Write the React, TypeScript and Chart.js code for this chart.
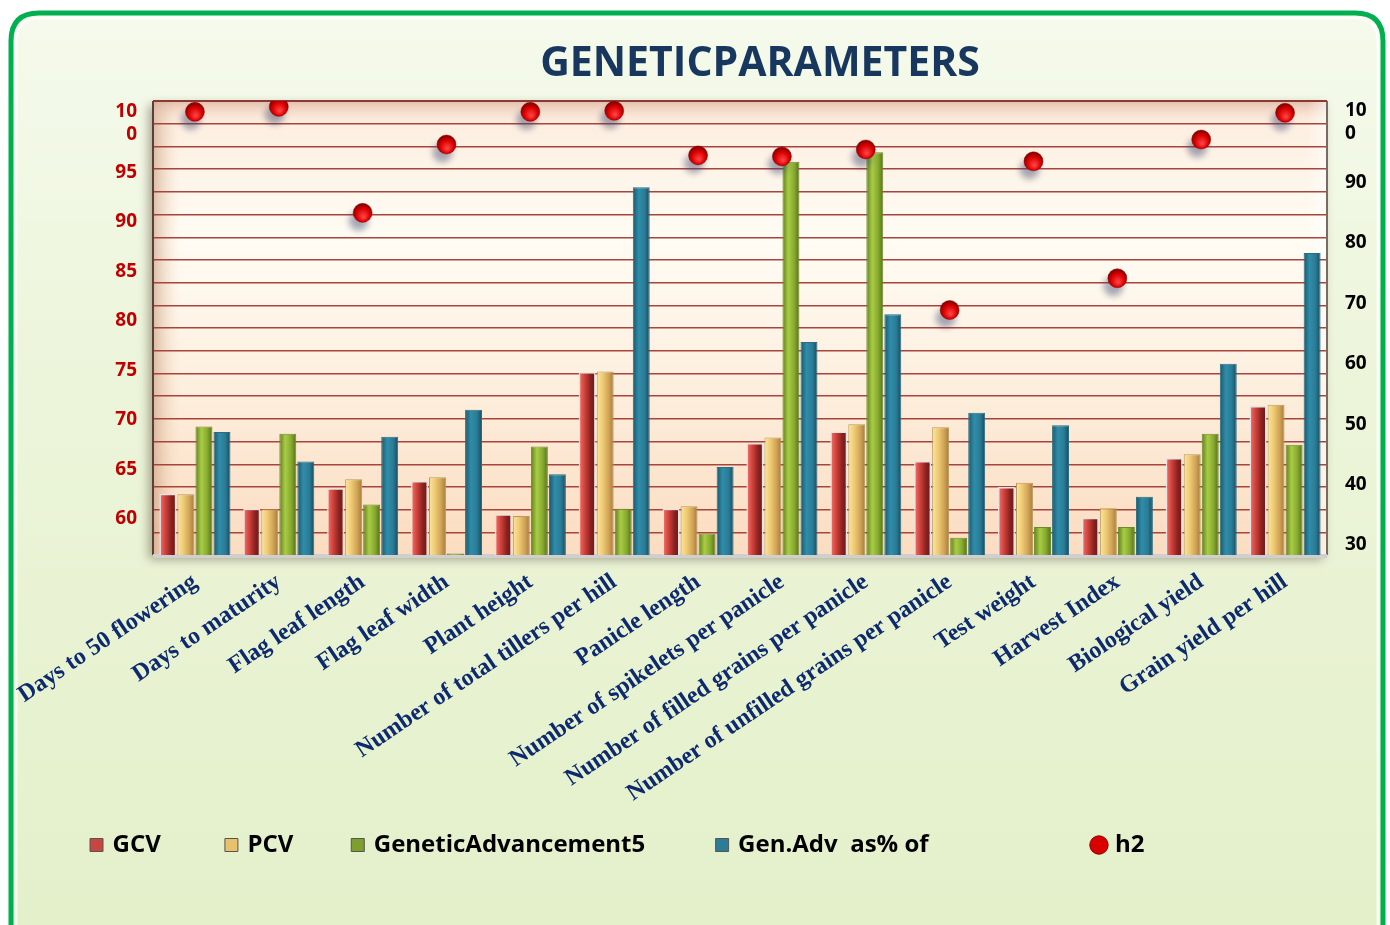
import React, { useEffect, useRef } from 'react';
import { Chart, registerables } from 'chart.js';

Chart.register(...registerables);

const categories = [
  'Days to 50 flowering',
  'Days to maturity',
  'Flag leaf length',
  'Flag leaf width',
  'Plant height',
  'Number of total tillers per hill',
  'Panicle length',
  'Number of spikelets per panicle',
  'Number of filled grains per panicle',
  'Number of unfilled grains per panicle',
  'Test weight',
  'Harvest Index',
  'Biological yield',
  'Grain yield per hill',
];

const gcv = [38.5, 36.0, 39.4, 40.6, 35.1, 58.6, 36.0, 46.9, 48.8, 43.9, 39.6, 34.5, 44.4, 53.0];
const pcv = [38.4, 35.9, 40.9, 41.2, 34.8, 58.7, 36.4, 47.8, 50.0, 49.5, 40.3, 36.1, 45.0, 53.2];
const geneticAdvance = [49.6, 48.4, 36.7, 28.6, 46.3, 36.0, 31.9, 93.4, 95.0, 31.2, 33.0, 33.0, 48.4, 46.6];
const genAdvPercent = [48.7, 43.8, 47.9, 52.4, 41.7, 89.2, 42.9, 63.6, 68.2, 51.9, 49.8, 38.0, 60.0, 78.3];
const h2 = [101.1, 101.6, 90.9, 97.8, 101.1, 101.2, 96.7, 96.6, 97.3, 81.1, 96.1, 84.3, 98.3, 101.0];

const seriesNames = ['GCV', 'PCV', 'GeneticAdvancement5', 'Gen.Adv  as% of', 'h2'];
// invisible trailing spacing after each legend entry (Excel's uneven legend spacing)
const legendGaps = [7, 6, 8, 23, 0];

const CAT_PCT = 0.86;
const BAR_PCT = 0.94;

const barStops: string[][] = [
  ['#F4756C', '#D0423C', '#8A2220', '#6A1816'],
  ['#FBE6A0', '#EFCB74', '#D1A457', '#A57A3C'],
  ['#5F7F1C', '#A9CC45', '#86A930', '#556F18'],
  ['#1C5668', '#2F8DAA', '#2A7C96', '#184A5C'],
];
const barBorders = ['#E4E4E4', '#B89A5A', '#6F8A2A', '#2A6C80'];
const legendFills = ['#C9463F', '#E9C16C', '#7E9E2E', '#2C7C95', '#D80000'];

function barFill(bi: number) {
  return (ctx: any) => {
    const chart = ctx.chart;
    const stops = barStops[bi];
    if (ctx.type !== 'data' || !chart.chartArea || !chart.scales.x) return stops[2];
    const xs = chart.scales.x;
    const cat = xs.getPixelForValue(ctx.dataIndex);
    const catW = xs.width / categories.length;
    const groupW = catW * CAT_PCT;
    const slot = groupW / 4;
    const bw = slot * BAR_PCT;
    const cx = cat - groupW / 2 + slot * (bi + 0.5);
    const g = chart.ctx.createLinearGradient(cx - bw / 2, 0, cx + bw / 2, 0);
    g.addColorStop(0, stops[0]);
    g.addColorStop(0.35, stops[1]);
    g.addColorStop(0.7, stops[2]);
    g.addColorStop(1, stops[3]);
    return g;
  };
}

function dotFill(ctx: any) {
  const chart = ctx.chart;
  if (ctx.type !== 'data' || !chart.chartArea || !chart.scales.y) return '#D80000';
  const x = chart.scales.x.getPixelForValue(ctx.dataIndex);
  const y = chart.scales.y.getPixelForValue(ctx.raw);
  const g = chart.ctx.createRadialGradient(x + 1, y + 4, 1, x, y + 1, 11);
  g.addColorStop(0, '#FF4040');
  g.addColorStop(0.55, '#E00000');
  g.addColorStop(1, '#700000');
  return g;
}

function roundRect(ctx: CanvasRenderingContext2D, x: number, y: number, w: number, h: number, r: number) {
  ctx.beginPath();
  ctx.moveTo(x + r, y);
  ctx.lineTo(x + w - r, y);
  ctx.quadraticCurveTo(x + w, y, x + w, y + r);
  ctx.lineTo(x + w, y + h - r);
  ctx.quadraticCurveTo(x + w, y + h, x + w - r, y + h);
  ctx.lineTo(x + r, y + h);
  ctx.quadraticCurveTo(x, y + h, x, y + h - r);
  ctx.lineTo(x, y + r);
  ctx.quadraticCurveTo(x, y, x + r, y);
  ctx.closePath();
}

const decorPlugin = {
  id: 'decor',
  beforeDraw(chart: any) {
    const { ctx, width, height, chartArea: a } = chart;
    ctx.save();
    ctx.fillStyle = '#ffffff';
    ctx.fillRect(0, 0, width, height);
    const g = ctx.createLinearGradient(0, 12, 0, height);
    g.addColorStop(0, '#F5FAEC');
    g.addColorStop(0.4, '#ECF5DA');
    g.addColorStop(1, '#E4F0CA');
    roundRect(ctx, 11, 13, 1372, 960, 28);
    ctx.fillStyle = g;
    ctx.fill();
    ctx.lineWidth = 5;
    ctx.strokeStyle = '#00B050';
    ctx.stroke();
    roundRect(ctx, 16, 18, 1362, 950, 24);
    ctx.lineWidth = 3;
    ctx.strokeStyle = 'rgba(255,255,255,0.75)';
    ctx.stroke();

    ctx.shadowColor = 'rgba(70,50,30,0.45)';
    ctx.shadowBlur = 10;
    ctx.shadowOffsetX = -4;
    ctx.shadowOffsetY = 4;
    const pg = ctx.createLinearGradient(0, a.top, 0, a.bottom);
    pg.addColorStop(0, '#FCECDD');
    pg.addColorStop(0.3, '#FFFCF4');
    pg.addColorStop(0.6, '#FDF0E0');
    pg.addColorStop(1, '#FBDCC0');
    ctx.fillStyle = pg;
    ctx.fillRect(a.left, a.top, a.right - a.left, a.bottom - a.top);
    ctx.shadowColor = 'transparent';

    const lg = ctx.createLinearGradient(a.left, 0, a.left + 28, 0);
    lg.addColorStop(0, 'rgba(190,140,110,0.55)');
    lg.addColorStop(1, 'rgba(250,220,190,0)');
    ctx.fillStyle = lg;
    ctx.fillRect(a.left, a.top, 28, a.bottom - a.top);
    const tg = ctx.createLinearGradient(0, a.top, 0, a.top + 24);
    tg.addColorStop(0, 'rgba(215,165,145,0.65)');
    tg.addColorStop(1, 'rgba(250,225,205,0)');
    ctx.fillStyle = tg;
    ctx.fillRect(a.left, a.top, a.right - a.left, 24);
    const rg = ctx.createLinearGradient(a.right - 20, 0, a.right, 0);
    rg.addColorStop(0, 'rgba(255,255,255,0)');
    rg.addColorStop(1, 'rgba(255,255,255,0.6)');
    ctx.fillStyle = rg;
    ctx.fillRect(a.right - 20, a.top, 20, a.bottom - a.top);
    ctx.restore();
  },
  beforeDatasetsDraw(chart: any) {
    const { ctx, chartArea: a } = chart;
    ctx.save();
    ctx.strokeStyle = '#5A4036';
    ctx.lineWidth = 2;
    ctx.beginPath();
    ctx.moveTo(a.left, a.top);
    ctx.lineTo(a.left, a.bottom);
    ctx.stroke();
    ctx.strokeStyle = '#7A6A64';
    ctx.beginPath();
    ctx.moveTo(a.right, a.top);
    ctx.lineTo(a.right, a.bottom);
    ctx.stroke();
    ctx.strokeStyle = '#8A3A32';
    ctx.beginPath();
    ctx.moveTo(a.left, a.top);
    ctx.lineTo(a.right, a.top);
    ctx.stroke();
    ctx.strokeStyle = '#CFCFCF';
    ctx.lineWidth = 4;
    ctx.beginPath();
    ctx.moveTo(a.left, a.bottom + 1);
    ctx.lineTo(a.right, a.bottom + 1);
    ctx.stroke();
    ctx.restore();
  },
  beforeDatasetDraw(chart: any, args: any) {
    if (args.index === 0) {
      const ctx = chart.ctx;
      ctx.save();
      ctx.shadowColor = 'rgba(60,70,110,0.45)';
      ctx.shadowBlur = 6;
      ctx.shadowOffsetX = -4;
      ctx.shadowOffsetY = 8;
    }
  },
  afterDatasetDraw(chart: any, args: any) {
    if (args.index === 0) chart.ctx.restore();
  },
  afterDraw(chart: any) {
    const { ctx } = chart;
    ctx.save();
    ctx.font = 'bold 41px "Open Sans"';
    ctx.fillStyle = '#17375E';
    ctx.textAlign = 'center';
    ctx.textBaseline = 'middle';
    ctx.fillText('GENETICPARAMETERS', 760, 64);
    ctx.restore();
  },
};

export default function App() {
  const ref = useRef<HTMLCanvasElement>(null);

  useEffect(() => {
    let chart: Chart | null = null;
    let cancelled = false;
    const fonts = ['bold 24px "Liberation Serif"', 'bold 24px "Open Sans"', 'bold 41px "Open Sans"', 'bold 19px "Open Sans"'];
    Promise.all(fonts.map((f) => document.fonts.load(f)))
      .catch(() => undefined)
      .then(() => {
        if (cancelled || !ref.current) return;
        const barData = [gcv, pcv, geneticAdvance, genAdvPercent];
        const datasets: any[] = [
          {
            type: 'line',
            label: seriesNames[4],
            data: h2,
            yAxisID: 'y',
            showLine: false,
            pointStyle: 'circle',
            pointRadius: 9.5,
            pointHoverRadius: 9.5,
            pointBackgroundColor: dotFill,
            pointBorderColor: '#8A0000',
            pointBorderWidth: 0.5,
          },
          ...barData.map((d, i) => ({
            type: 'bar',
            label: seriesNames[i],
            data: d,
            yAxisID: 'y1',
            backgroundColor: barFill(i),
            borderColor: barBorders[i],
            borderWidth: i === 0 ? 1.5 : 1,
            categoryPercentage: CAT_PCT,
            barPercentage: BAR_PCT,
          })),
        ];

        chart = new Chart(ref.current, {
          type: 'bar',
          data: { labels: categories, datasets },
          plugins: [decorPlugin],
          options: {
            animation: false,
            responsive: true,
            maintainAspectRatio: false,
            events: [],
            layout: { padding: { top: 101, left: 69.5, right: 13, bottom: 58 } },
            plugins: {
              title: { display: false },
              tooltip: { enabled: false },
              legend: {
                position: 'bottom',
                align: 'start',
                labels: {
                  usePointStyle: true,
                  boxWidth: 8,
                  boxHeight: 13,
                  padding: 23,
                  color: '#000000',
                  font: { family: 'Open Sans', size: 24, weight: 'bold' },
                  sort: (a: any, b: any) => {
                    const ka = a.datasetIndex === 0 ? 99 : a.datasetIndex;
                    const kb = b.datasetIndex === 0 ? 99 : b.datasetIndex;
                    return ka - kb;
                  },
                  generateLabels: (c: any) => {
                    const items = (Chart.defaults.plugins.legend.labels as any).generateLabels(c);
                    return items.map((it: any) => {
                      const isDot = it.datasetIndex === 0;
                      const idx = isDot ? 4 : it.datasetIndex - 1;
                      const text = seriesNames[idx] + '\u00a0'.repeat(legendGaps[idx]);
                      return {
                        ...it,
                        text,
                        fillStyle: legendFills[idx],
                        strokeStyle: isDot ? '#8A0000' : '#555555',
                        lineWidth: 1,
                        pointStyle: isDot ? 'circle' : 'rect',
                      };
                    });
                  },
                },
              },
            },
            scales: {
              x: {
                grid: { display: false, drawTicks: false },
                border: { display: false },
                ticks: {
                  autoSkip: false,
                  minRotation: 34,
                  maxRotation: 34,
                  padding: 13,
                  color: '#0D2A6E',
                  font: { family: 'Liberation Serif', size: 24, weight: 'bold' },
                },
                afterFit: (s: any) => {
                  s.height = 255;
                  s.paddingLeft = 0;
                  s.paddingRight = 0;
                },
              },
              yg: {
                type: 'linear',
                position: 'left',
                min: 0,
                max: 20,
                ticks: { display: false, stepSize: 1 },
                grid: { color: '#A8443C', lineWidth: 1.4, drawTicks: false },
                border: { display: false },
                afterFit: (s: any) => {
                  s.width = 0;
                  s.paddingTop = 0;
                  s.paddingBottom = 0;
                },
              },
              y: {
                type: 'linear',
                position: 'left',
                min: 56.37,
                max: 102.19,
                grid: { display: false, drawTicks: false },
                border: { display: false },
                ticks: {
                  stepSize: 5,
                  includeBounds: false,
                  padding: 16,
                  color: '#C00000',
                  font: { family: 'Open Sans', size: 19, weight: 'bold' },
                  callback: (v: any) => (v === 100 ? ['10', '0'] : String(v)),
                },
                afterFit: (s: any) => {
                  s.width = 83.5;
                  s.paddingTop = 0;
                  s.paddingBottom = 0;
                },
              },
              y1: {
                type: 'linear',
                position: 'right',
                min: 28.35,
                max: 103.46,
                grid: { display: false, drawTicks: false },
                border: { display: false },
                ticks: {
                  stepSize: 10,
                  includeBounds: false,
                  padding: 18,
                  color: '#000000',
                  font: { family: 'Open Sans', size: 19, weight: 'bold' },
                  callback: (v: any) => (v === 100 ? ['10', '0'] : String(v)),
                },
                afterFit: (s: any) => {
                  s.width = 50;
                  s.paddingTop = 0;
                  s.paddingBottom = 0;
                },
              },
            },
          } as any,
        });
      });
    return () => {
      cancelled = true;
      if (chart) chart.destroy();
    };
  }, []);

  return (
    <div style={{ position: 'fixed', left: 0, top: 0, width: 1390, height: 925 }}>
      <canvas ref={ref} />
    </div>
  );
}
